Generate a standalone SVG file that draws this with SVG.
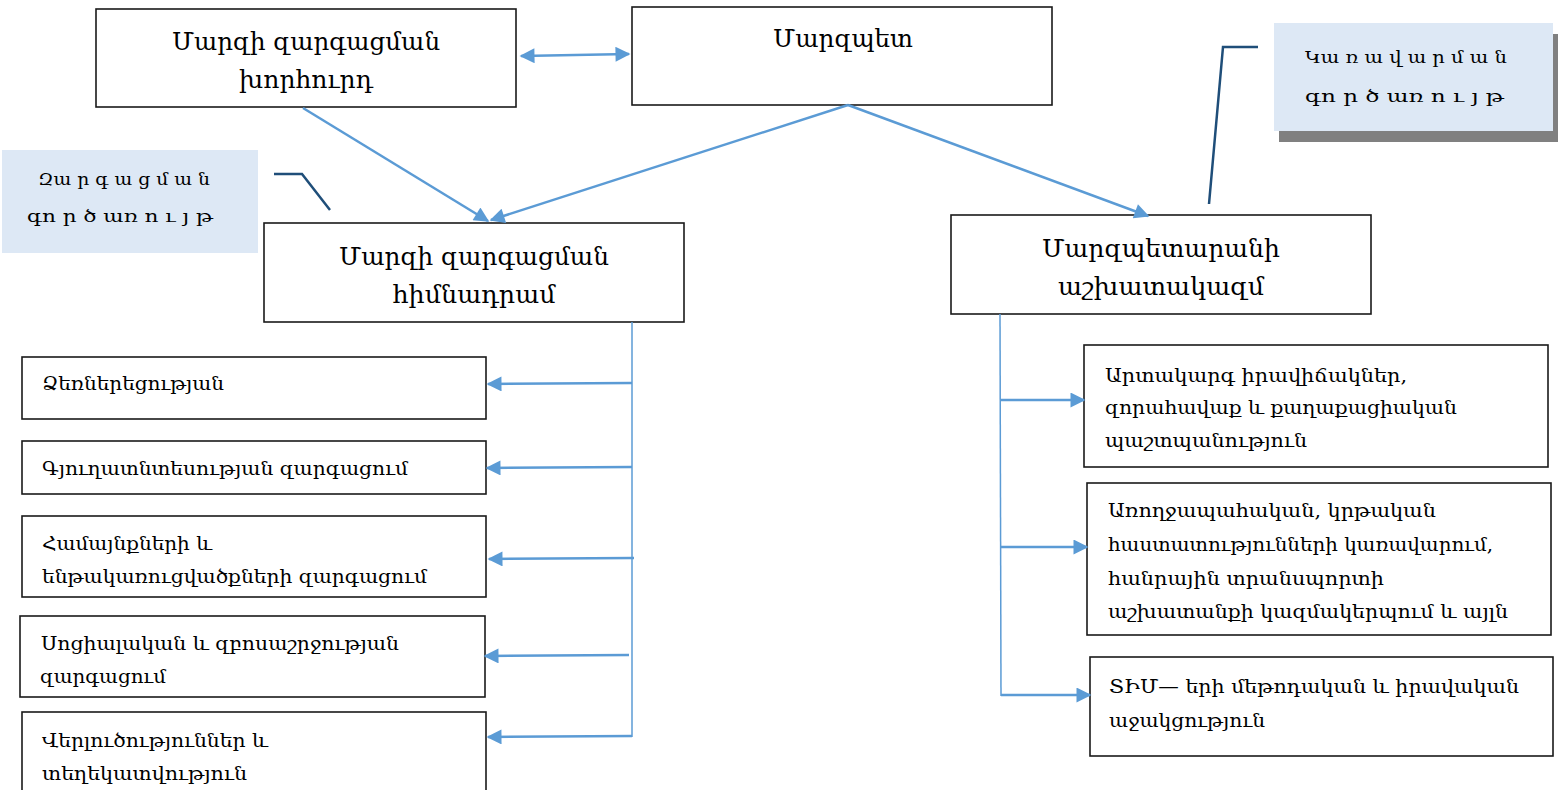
<svg xmlns="http://www.w3.org/2000/svg" width="1565" height="790" viewBox="0 0 1565 790">
<style>
.box{fill:#fff;stroke:#1a1a1a;stroke-width:1.6}
.t{font-family:"DejaVu Serif","DejaVu Sans",serif;fill:#000}
.big{font-size:25px;text-anchor:middle}
.sm{font-size:19px}
.co{font-size:17px}
.cl{fill:#dde8f5}
.cline{fill:none;stroke:#1f4e79;stroke-width:2.5}
.arr{fill:none;stroke:#5b9bd5;stroke-width:2.5}
.thin{fill:none;stroke:#5b9bd5;stroke-width:1.5}
</style>
<defs>
<marker id="ah" viewBox="0 0 10 10" refX="9" refY="5" markerWidth="6.5" markerHeight="6" markerUnits="strokeWidth" orient="auto-start-reverse">
<path d="M0,0 L10,5 L0,10 z" fill="#5b9bd5"/>
</marker>
</defs>

<g id="callout-left">
<rect class="cl" x="2" y="150" width="256" height="103"/>
<text class="t co" x="38" y="185" textLength="172" lengthAdjust="spacingAndGlyphs">Զա ր գ ա ց մ ա ն</text>
<text class="t co" x="27" y="222" textLength="186" lengthAdjust="spacingAndGlyphs">գո ր ծ առ ո ւ յ թ</text>
<polyline class="cline" points="274,174 302,174 330,210"/>
</g>

<g id="callout-right">
<rect x="1279" y="34" width="279" height="108" fill="#808080"/>
<rect class="cl" x="1274" y="23" width="279" height="108"/>
<text class="t co" x="1305" y="63" textLength="202" lengthAdjust="spacingAndGlyphs">Կա ռ ա վ ա ր մ ա ն</text>
<text class="t co" x="1305" y="102" textLength="199" lengthAdjust="spacingAndGlyphs">գո ր ծ առ ո ւ յ թ</text>
<polyline class="cline" points="1258,47 1223,47 1209,204"/>
</g>

<g id="node-council">
<rect class="box" x="96" y="9" width="420" height="98"/>
<text class="t big" x="306" y="50" textLength="268" lengthAdjust="spacingAndGlyphs">Մարզի զարգացման</text>
<text class="t big" x="306" y="88" textLength="134" lengthAdjust="spacingAndGlyphs">խորհուրդ</text>
</g>

<g id="node-governor">
<rect class="box" x="632" y="7" width="420" height="98"/>
<text class="t big" x="843" y="47" textLength="140" lengthAdjust="spacingAndGlyphs">Մարզպետ</text>
</g>

<g id="node-fund">
<rect class="box" x="264" y="223" width="420" height="99"/>
<text class="t big" x="474" y="265" textLength="270" lengthAdjust="spacingAndGlyphs">Մարզի զարգացման</text>
<text class="t big" x="474" y="303" textLength="163" lengthAdjust="spacingAndGlyphs">հիմնադրամ</text>
</g>

<g id="node-staff">
<rect class="box" x="951" y="215" width="420" height="99"/>
<text class="t big" x="1161" y="257" textLength="238" lengthAdjust="spacingAndGlyphs">Մարզպետարանի</text>
<text class="t big" x="1161" y="295" textLength="206" lengthAdjust="spacingAndGlyphs">աշխատակազմ</text>
</g>

<g id="node-l1">
<rect class="box" x="22" y="357" width="464" height="62"/>
<text class="t sm" x="42" y="390" textLength="182" lengthAdjust="spacingAndGlyphs">Ձեռներեցության</text>
</g>
<g id="node-l2">
<rect class="box" x="22" y="441" width="464" height="53"/>
<text class="t sm" x="42" y="475" textLength="366" lengthAdjust="spacingAndGlyphs">Գյուղատնտեսության զարգացում</text>
</g>
<g id="node-l3">
<rect class="box" x="22" y="516" width="464" height="81"/>
<text class="t sm" x="42" y="550" textLength="170" lengthAdjust="spacingAndGlyphs">Համայնքների և</text>
<text class="t sm" x="42" y="583" textLength="385" lengthAdjust="spacingAndGlyphs">ենթակառուցվածքների զարգացում</text>
</g>
<g id="node-l4">
<rect class="box" x="20" y="616" width="465" height="81"/>
<text class="t sm" x="41" y="650" textLength="358" lengthAdjust="spacingAndGlyphs">Սոցիալական և զբոսաշրջության</text>
<text class="t sm" x="40" y="683" textLength="126" lengthAdjust="spacingAndGlyphs">զարգացում</text>
</g>
<g id="node-l5">
<rect class="box" x="22" y="712" width="464" height="90"/>
<text class="t sm" x="42" y="747" textLength="226" lengthAdjust="spacingAndGlyphs">Վերլուծություններ և</text>
<text class="t sm" x="42" y="780" textLength="205" lengthAdjust="spacingAndGlyphs">տեղեկատվություն</text>
</g>

<g id="node-r1">
<rect class="box" x="1084" y="345" width="464" height="122"/>
<text class="t sm" x="1105" y="382" textLength="302" lengthAdjust="spacingAndGlyphs">Արտակարգ իրավիճակներ,</text>
<text class="t sm" x="1105" y="414" textLength="352" lengthAdjust="spacingAndGlyphs">զորահավաք և քաղաքացիական</text>
<text class="t sm" x="1105" y="447" textLength="202" lengthAdjust="spacingAndGlyphs">պաշտպանություն</text>
</g>
<g id="node-r2">
<rect class="box" x="1087" y="483" width="464" height="152"/>
<text class="t sm" x="1108" y="517" textLength="328" lengthAdjust="spacingAndGlyphs">Առողջապահական, կրթական</text>
<text class="t sm" x="1108" y="551" textLength="385" lengthAdjust="spacingAndGlyphs">հաստատությունների կառավարում,</text>
<text class="t sm" x="1108" y="585" textLength="276" lengthAdjust="spacingAndGlyphs">հանրային տրանսպորտի</text>
<text class="t sm" x="1108" y="618" textLength="400" lengthAdjust="spacingAndGlyphs">աշխատանքի կազմակերպում և այլն</text>
</g>
<g id="node-r3">
<rect class="box" x="1090" y="657" width="463" height="99"/>
<text class="t sm" x="1109" y="693" textLength="410" lengthAdjust="spacingAndGlyphs">ՏԻՄ— երի մեթոդական և իրավական</text>
<text class="t sm" x="1109" y="727" textLength="156" lengthAdjust="spacingAndGlyphs">աջակցություն</text>
</g>

<g id="connectors">
<line class="arr" x1="521" y1="56" x2="629" y2="54" marker-start="url(#ah)" marker-end="url(#ah)"/>
<line class="arr" x1="303" y1="108" x2="488" y2="221" marker-end="url(#ah)"/>
<line class="arr" x1="848" y1="105" x2="491" y2="220" marker-end="url(#ah)"/>
<line class="arr" x1="848" y1="105" x2="1148" y2="216" marker-end="url(#ah)"/>
<line class="thin" x1="632" y1="322" x2="632" y2="737"/>
<line class="arr" x1="632" y1="383" x2="488" y2="384" marker-end="url(#ah)"/>
<line class="arr" x1="632" y1="467" x2="487" y2="468" marker-end="url(#ah)"/>
<line class="arr" x1="634" y1="558" x2="489" y2="559" marker-end="url(#ah)"/>
<line class="arr" x1="629" y1="655" x2="485" y2="656" marker-end="url(#ah)"/>
<line class="arr" x1="632" y1="736" x2="488" y2="737" marker-end="url(#ah)"/>
<line class="thin" x1="1000" y1="314" x2="1001" y2="696"/>
<line class="arr" x1="1000" y1="400" x2="1084" y2="400" marker-end="url(#ah)"/>
<line class="arr" x1="1001" y1="547" x2="1087" y2="547" marker-end="url(#ah)"/>
<line class="arr" x1="1001" y1="695" x2="1090" y2="695" marker-end="url(#ah)"/>
</g>
</svg>
